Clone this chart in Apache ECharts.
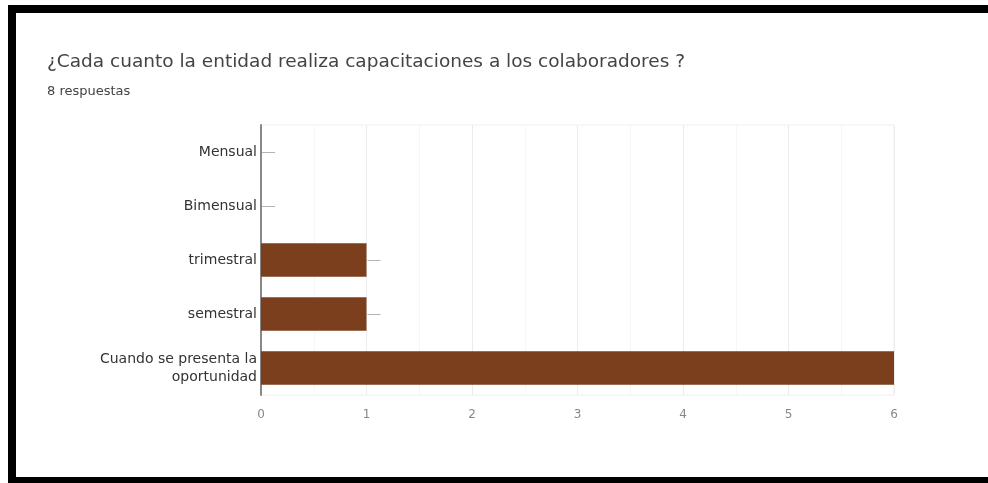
<!DOCTYPE html>
<html>
<head>
<meta charset="utf-8">
<script src="https://cdn.jsdelivr.net/npm/echarts@6/dist/echarts.min.js"></script>
<style>
html,body{margin:0;padding:0;background:#fff;}
#wrap{position:relative;width:988px;height:483px;overflow:hidden;background:#fff;}
#chart{position:absolute;left:0;top:0;width:988px;height:483px;}
.b{position:absolute;background:#000;}
</style>
</head>
<body>
<div id="wrap">
<div id="chart"></div>
<div class="b" style="left:8px;top:5px;width:980px;height:8px;"></div>
<div class="b" style="left:8px;top:5px;width:8px;height:478px;"></div>
<div class="b" style="left:8px;top:477px;width:980px;height:6px;"></div>
</div>
<script>
const titleText = "¿Cada cuanto la entidad realiza capacitaciones a los colaboradores ?";
const subtitleText = "8 respuestas";
const categories = ["Mensual", "Bimensual", "trimestral", "semestral", "Cuando se presenta la\noportunidad"];
const values = [0, 0, 1, 1, 6];
const xTicks = [0, 1, 2, 3, 4, 5, 6];

const maxVal = xTicks[xTicks.length - 1];
const chart = echarts.init(document.getElementById('chart'), null, {renderer: 'canvas'});
chart.setOption({
  animation: false,
  backgroundColor: 'transparent',
  title: [
    {text: titleText, left: 42, top: 48, textStyle: {fontFamily: '"DejaVu Sans", sans-serif', fontSize: 18.5, fontWeight: 'normal', color: '#444'}},
    {text: subtitleText, left: 42, top: 80, textStyle: {fontFamily: '"DejaVu Sans", sans-serif', fontSize: 13, fontWeight: 'normal', color: '#444'}}
  ],
  grid: {left: 261, right: 94, top: 125, bottom: 88, containLabel: false,
         show: true, borderColor: '#f0f0f0', borderWidth: 1},
  xAxis: {
    type: 'value', min: 0, max: maxVal, interval: 1,
    axisLine: {show: false}, axisTick: {show: false},
    axisLabel: {color: '#888', fontSize: 12, margin: 14, fontFamily: '"DejaVu Sans", sans-serif'},
    splitLine: {show: true, lineStyle: {color: '#ececec', width: 1}},
    minorTick: {show: false, splitNumber: 2},
    minorSplitLine: {show: true, lineStyle: {color: '#f6f6f6', width: 1}}
  },
  yAxis: {
    type: 'category', data: categories, inverse: true,
    axisLine: {show: true, lineStyle: {color: '#888', width: 2}},
    axisTick: {show: false},
    axisLabel: {color: '#333', fontSize: 14, margin: 4, lineHeight: 18, align: 'right', fontFamily: '"DejaVu Sans", sans-serif'}
  },
  series: [{
    type: 'bar', data: values, barCategoryGap: '38%',
    itemStyle: {color: '#7b3f1e'},
    label: {show: true, position: 'right', distance: 1, color: '#aaa', fontSize: 13,
            formatter: p => p.value >= maxVal ? '' : '—'}
  }]
});
</script>
</body>
</html>
